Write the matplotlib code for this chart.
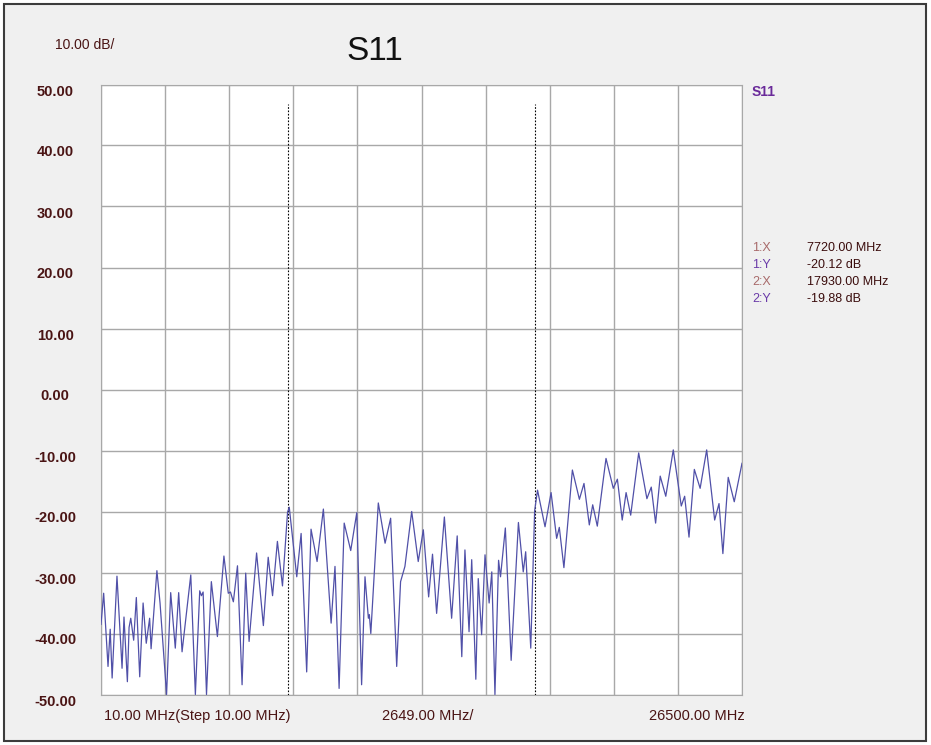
import matplotlib
matplotlib.use("Agg")
import matplotlib.pyplot as plt
from matplotlib.patches import Rectangle

plt.rcParams['font.family'] = ['Liberation Sans', 'DejaVu Sans']

# S11 trace (frequency in MHz, magnitude in dB)
freq = [10, 120, 300, 390, 470, 670, 880, 960, 1100, 1170, 1240, 1360, 1470, 1610,
        1750, 1880, 2020, 2080, 2320, 2450, 2720, 2890, 3080, 3220, 3360, 3720,
        3910, 4090, 4160, 4230, 4370, 4570, 4820, 5090, 5270, 5360, 5480, 5650,
        5840, 5990, 6130, 6440, 6720, 6920, 7100, 7300, 7510, 7720, 7790, 8100,
        8280, 8510, 8690, 8940, 9200, 9520, 9680, 9850, 10060, 10330, 10580,
        10780, 10920, 11060, 11100, 11160, 11470, 11750, 11980, 12230, 12390,
        12570, 12850, 13120, 13330, 13550, 13710, 13880, 14200, 14500, 14730,
        14920, 15050, 15220, 15330, 15500, 15600, 15740, 15880, 16050, 16160,
        16290, 16440, 16520, 16720, 16960, 17260, 17460, 17560, 17770, 17930,
        18050, 18360, 18610, 18840, 18950, 19140, 19490, 19780, 19970, 20190,
        20330, 20520, 20880, 21180, 21350, 21550, 21710, 21900, 22230, 22570,
        22750, 22930, 23120, 23350, 23660, 23990, 24130, 24310, 24530, 24770,
        25040, 25370, 25550, 25710, 25930, 26180, 26500]
s11 = [-38.5, -33.4, -45.4, -39.3, -47.3, -30.6, -45.7, -37.3, -47.9, -39.0, -37.5,
       -41.1, -34.1, -47.1, -35.0, -41.6, -37.5, -42.5, -29.7, -35.0, -50.0, -33.3,
       -42.4, -33.3, -43.0, -30.4, -50.0, -33.0, -33.8, -33.2, -50.0, -31.5, -40.5,
       -27.3, -33.4, -33.2, -34.8, -28.9, -48.4, -30.1, -41.3, -26.8, -38.7, -27.5,
       -33.8, -24.9, -32.2, -20.1, -19.3, -30.7, -23.6, -46.3, -22.9, -28.2, -19.6,
       -38.3, -29.0, -49.0, -21.9, -26.4, -20.2, -48.4, -30.7, -37.5, -36.9, -40.0,
       -18.6, -25.2, -21.1, -45.4, -31.5, -29.0, -20.0, -28.2, -23.0, -34.0, -27.0,
       -36.7, -20.9, -37.5, -24.0, -43.8, -26.3, -39.7, -27.9, -47.5, -31.0, -40.2,
       -27.1, -35.0, -29.9, -50.0, -28.0, -30.7, -22.7, -44.4, -21.8, -29.9, -26.6,
       -42.4, -19.9, -16.5, -22.5, -16.9, -24.4, -22.6, -29.2, -13.2, -18.0, -15.4,
       -22.2, -18.9, -22.4, -11.3, -16.2, -14.7, -21.4, -16.9, -20.6, -10.4, -17.9,
       -16.0, -21.9, -14.2, -17.5, -9.9, -19.1, -17.5, -24.2, -13.1, -16.2, -9.9,
       -21.4, -18.7, -26.9, -14.4, -18.4, -12.1]

# markers
marker_freq = [7720, 17930]
marker_db = [-20.12, -19.88]

f_start, f_stop = 10, 26500
f_step = (f_stop - f_start) / 10
y_ticks = [50, 40, 30, 20, 10, 0, -10, -20, -30, -40, -50]

label_col = '#4a1414'

fig = plt.figure(figsize=(9.31, 7.45), dpi=100, facecolor='white')
fig.patches.append(Rectangle((4 / 931, 4 / 745), 922 / 931, 737 / 745,
                             transform=fig.transFigure, facecolor='#f0f0f0',
                             edgecolor='#3c3c3c', lw=1.5, zorder=-10))

ax = fig.add_axes([101 / 931, 50.5 / 745, 641 / 931, 610 / 745])
ax.set_facecolor('white')
ax.plot(freq, s11, color='#5050a8', lw=0.9, zorder=3)

# marker lines
for f in marker_freq:
    ax.plot([f, f], [-50, 46.8], color='black', lw=0.8, ls=(0, (1.5, 1.5)), zorder=2)

ax.set_xlim(f_start, f_stop)
ax.set_ylim(-50, 50)
ax.set_xticks([f_start + i * f_step for i in range(11)])
ax.set_xticklabels([])
ax.set_yticks(y_ticks)
ax.set_yticklabels(['%.2f' % v for v in y_ticks], fontsize=10.5, fontweight='bold',
                   color=label_col, ha='center', va='top')
ax.tick_params(axis='both', length=0)
ax.tick_params(axis='y', pad=33)
ax.grid(True, color='#a8a8a8', lw=1.0)
for sp in ax.spines.values():
    sp.set_color('#a8a8a8')

# frequency labels under the grid
ax.text(0.005, -0.035, '%.2f MHz(Step %.2f MHz)' % (f_start, 10.0), transform=ax.transAxes,
        ha='left', va='center', fontsize=10.5, color=label_col)
ax.text(0.51, -0.035, '%.2f MHz/' % f_step, transform=ax.transAxes,
        ha='center', va='center', fontsize=10.5, color=label_col)
ax.text(1.005, -0.035, '%.2f MHz' % f_stop, transform=ax.transAxes,
        ha='right', va='center', fontsize=10.5, color=label_col)

# header texts
fig.text(55 / 931, 1 - 45 / 745, '10.00 dB/', ha='left', va='center', fontsize=10,
         color=label_col)
fig.text(375 / 931, 1 - 51 / 745, 'S11', ha='center', va='center', fontsize=24,
         color='#111111')
fig.text(752 / 931, 1 - 92 / 745, 'S11', ha='left', va='center', fontsize=10,
         fontweight='bold', color='#6a2a9a')

# marker readout
rows = []
for i in range(len(marker_freq)):
    rows.append(('%d:X' % (i + 1), '%.2f MHz' % marker_freq[i], '#a86a6a'))
    rows.append(('%d:Y' % (i + 1), '%.2f dB' % marker_db[i], '#6a3aa8'))
for k, (name, val, c) in enumerate(rows):
    y = 1 - (248 + k * 17) / 745
    fig.text(752 / 931, y, name, ha='left', va='center', fontsize=9, color=c)
    fig.text(807 / 931, y, val, ha='left', va='center', fontsize=9, color='#3a0c0c')

fig.savefig('out.png', dpi=100, facecolor=fig.get_facecolor())
